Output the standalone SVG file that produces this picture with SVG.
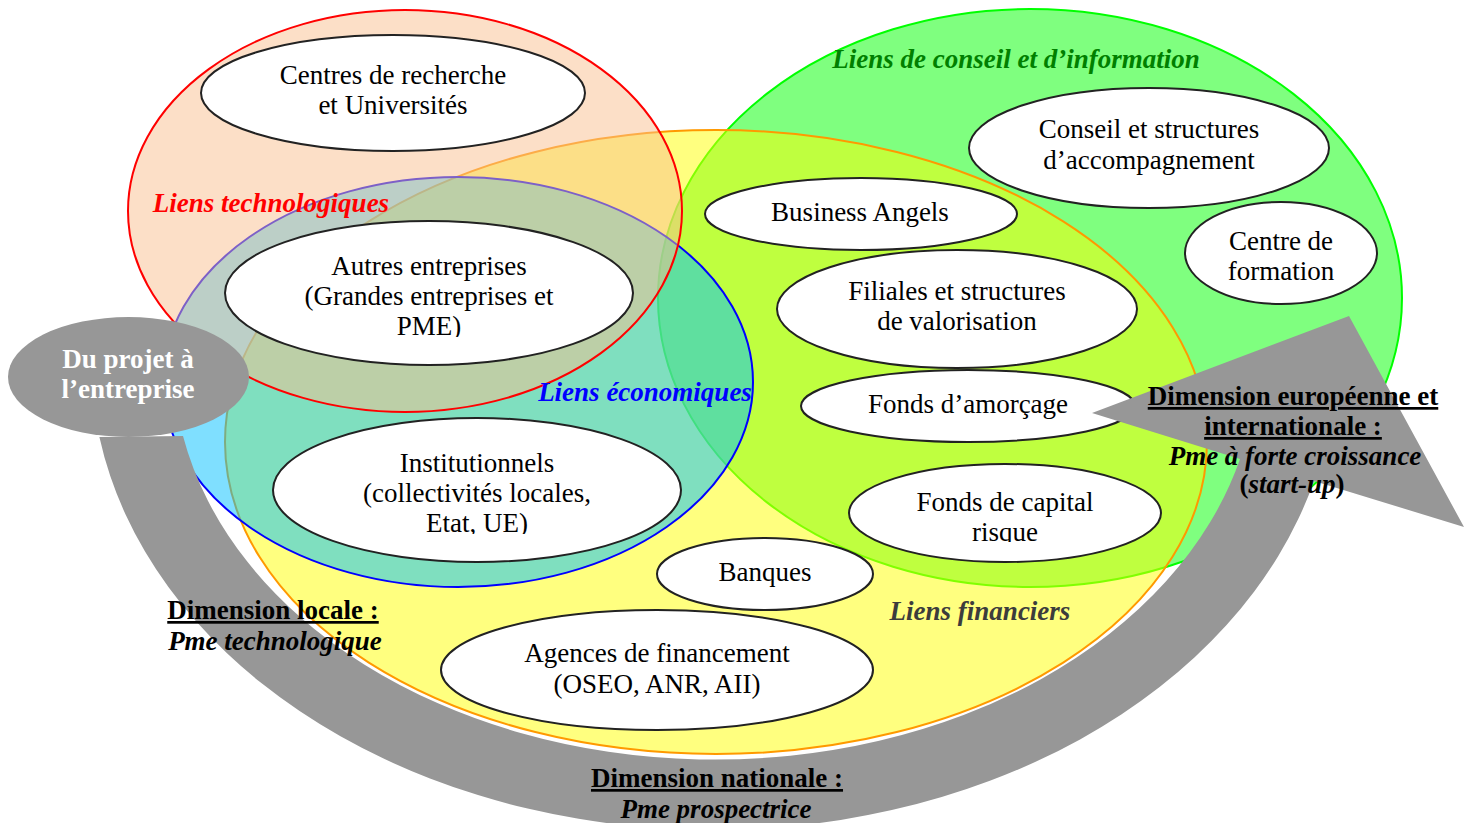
<svg xmlns="http://www.w3.org/2000/svg" width="1469" height="823" viewBox="0 0 1469 823">
<style>
.reg{fill-opacity:.5;stroke-width:2}
.nd{fill:#fff;stroke:#222;stroke-width:2}
.t{font-family:"Liberation Serif","Times New Roman",serif;font-size:27px;text-anchor:middle;fill:#000}
.b{font-weight:bold}
.bi{font-weight:bold;font-style:italic}
.u{text-decoration:underline}
.arrow{fill:#979797}
</style>
<defs>
<clipPath id="cA"><rect x="225" y="222" width="410" height="115"/></clipPath>
<clipPath id="cI"><rect x="273" y="418" width="410" height="116"/></clipPath>
<clipPath id="cF"><rect x="849" y="464" width="314" height="78"/></clipPath>
</defs>
<rect width="1469" height="823" fill="#fff"/>
<g id="regions">
<ellipse id="conseil" class="reg" cx="1030" cy="298" rx="372" ry="289" fill="#00FF00" stroke="#00FF00"/>
<ellipse id="financiers" class="reg" cx="716" cy="442" rx="491" ry="312" fill="#FFFF00" stroke="#FF9900"/>
<ellipse id="economiques" class="reg" cx="458" cy="382" rx="295" ry="205" fill="#00C0FF" stroke="#0000FF"/>
<ellipse id="technologiques" class="reg" cx="405" cy="211" rx="277" ry="201" fill="#FAC090" stroke="#FF0000"/>
</g>
<g id="n-centres"><ellipse class="nd" cx="393" cy="93" rx="192" ry="58"/><text class="t" x="393" y="84">Centres de recherche</text><text class="t" x="393" y="114">et Universités</text></g>
<g id="n-autres"><ellipse class="nd" cx="429" cy="293" rx="204" ry="72"/><g clip-path="url(#cA)"><text class="t" x="429" y="275">Autres entreprises</text><text class="t" x="429" y="305">(Grandes entreprises et</text><text class="t" x="429" y="335">PME)</text></g></g>
<g id="n-institutionnels"><ellipse class="nd" cx="477" cy="490" rx="204" ry="72"/><g clip-path="url(#cI)"><text class="t" x="477" y="472">Institutionnels</text><text class="t" x="477" y="502">(collectivités locales,</text><text class="t" x="477" y="532">Etat, UE)</text></g></g>
<g id="n-business"><ellipse class="nd" cx="861" cy="214" rx="156" ry="36"/><text class="t" x="860" y="221">Business Angels</text></g>
<g id="n-filiales"><ellipse class="nd" cx="957" cy="309" rx="180" ry="59"/><text class="t" x="957" y="300">Filiales et structures</text><text class="t" x="957" y="330">de valorisation</text></g>
<g id="n-amorcage"><ellipse class="nd" cx="968" cy="406" rx="167" ry="36"/><text class="t" x="968" y="413">Fonds d’amorçage</text></g>
<g id="n-capital"><ellipse class="nd" cx="1005" cy="513" rx="156" ry="49"/><g clip-path="url(#cF)"><text class="t" x="1005" y="511">Fonds de capital</text><text class="t" x="1005" y="541">risque</text></g></g>
<g id="n-banques"><ellipse class="nd" cx="765" cy="574" rx="108" ry="36"/><text class="t" x="765" y="581">Banques</text></g>
<g id="n-agences"><ellipse class="nd" cx="657" cy="670" rx="216" ry="60"/><text class="t" x="657" y="662">Agences de financement</text><text class="t" x="657" y="693">(OSEO, ANR, AII)</text></g>
<g id="n-conseil"><ellipse class="nd" cx="1149" cy="148" rx="180" ry="60"/><text class="t" x="1149" y="138">Conseil et structures</text><text class="t" x="1149" y="169">d’accompagnement</text></g>
<g id="n-formation"><ellipse class="nd" cx="1281" cy="253" rx="96" ry="51"/><text class="t" x="1281" y="250">Centre de</text><text class="t" x="1281" y="280">formation</text></g>
<g id="region-labels">
<text class="t bi" x="271" y="212" fill="#FF0000" style="fill:#FF0000">Liens technologiques</text>
<text class="t bi" x="645" y="401" style="fill:#0000FF">Liens économiques</text>
<text class="t bi" x="1016" y="68" style="fill:#008000">Liens de conseil et d’information</text>
<text class="t bi" x="980" y="620" style="fill:#3c3c3c">Liens financiers</text>
</g>
<g id="connectors">
<path class="arrow" d="M 99.4 437 A 622 470 0 0 0 1314 481 L 1464 527 L 1349 316 L 1092 413 L 1240 459 A 542 400 0 0 1 183 436 Z"/>
</g>
<g id="n-projet"><ellipse class="arrow" cx="128.5" cy="377" rx="120.5" ry="60"/><text class="t b" x="128" y="368" style="fill:#fff">Du projet à</text><text class="t b" x="128" y="398" style="fill:#fff">l’entreprise</text></g>
<g id="dimension-labels">
<text class="t b u" x="273" y="619">Dimension locale :</text>
<text class="t bi" x="275" y="650">Pme technologique</text>
<text class="t b u" x="717" y="787">Dimension nationale :</text>
<text class="t bi" x="716" y="818">Pme prospectrice</text>
<text class="t b u" x="1293" y="405">Dimension européenne et</text>
<text class="t b u" x="1293" y="435">internationale :</text>
<text class="t bi" x="1295" y="465">Pme à forte croissance</text>
<text class="t b" x="1292" y="493">(<tspan font-style="italic">start-up</tspan>)</text>
</g>
</svg>
